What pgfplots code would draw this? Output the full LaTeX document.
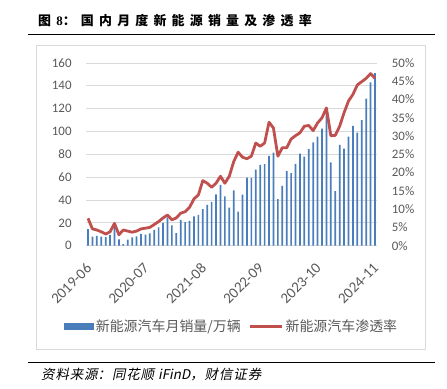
\documentclass[border=0pt]{standalone}
\usepackage{pgfplots}
\pgfplotsset{compat=1.18}
\usepackage{pgfplotstable}
\usepackage{fontspec}
\setmainfont{Carlito}
\newfontfamily\cjk{Noto Sans CJK SC}
\newfontfamily\cjkit[FakeSlant=0.2]{Noto Sans CJK SC}
\newfontfamily\serifnum{Liberation Serif}
\definecolor{barblue}{RGB}{74,126,187}
\definecolor{linered}{RGB}{192,80,77}
\definecolor{gridgray}{RGB}{217,217,217}
\definecolor{labgray}{RGB}{89,89,89}
\pgfplotstableread{
idx sales pen
0 14.5 7.5
1 8.0 4.6
2 8.5 4.3
3 8.0 3.8
4 7.5 3.2
5 9.5 3.8
6 18.0 6.1
7 5.5 3.0
8 1.3 4.3
9 5.3 4.0
10 7.2 3.7
11 8.2 4.0
12 10.4 4.6
13 9.8 4.8
14 10.9 5.0
15 13.8 5.8
16 16.0 6.6
17 20.0 7.6
18 24.8 8.4
19 17.9 7.1
20 11.0 7.6
21 22.6 8.9
22 20.6 9.3
23 21.7 10.5
24 25.6 12.8
25 27.1 13.9
26 32.1 17.8
27 35.7 17.1
28 38.3 16.0
29 45.0 17.1
30 53.1 19.0
31 43.1 17.1
32 33.4 19.0
33 48.4 23.0
34 29.9 25.6
35 44.7 24.2
36 59.6 23.8
37 59.3 24.5
38 66.6 28.1
39 70.8 27.2
40 71.4 28.1
41 78.6 33.8
42 81.4 32.2
43 40.8 24.5
44 52.5 26.8
45 65.3 26.8
46 63.6 29.2
47 71.7 30.1
48 80.6 30.9
49 78.0 32.7
50 84.6 32.9
51 90.4 31.5
52 95.6 33.6
53 102.6 35.0
54 119.1 37.7
55 72.9 30.1
56 47.7 30.2
57 88.3 32.7
58 85.0 36.4
59 95.5 39.6
60 104.9 41.4
61 99.1 44.0
62 110.0 44.9
63 128.7 45.8
64 143.0 47.1
65 151.2 45.8
}\datatable
\newcommand{\tsp}{\hspace{5.2bp}}
\newcommand{\ssp}{\hspace{0.9bp}}
\begin{document}
\begin{tikzpicture}
\path[use as bounding box] (0,0) rectangle (447bp,389bp);
% title
\node[anchor=west, inner sep=0pt, font=\cjk\bfseries\fontsize{13}{15}\selectfont] at (38bp,368.3bp)
 {图\tsp{\serifnum\bfseries 8}：\tsp 国\tsp 内\tsp 月\tsp 度\tsp 新\tsp 能\tsp 源\tsp 销\tsp 量\tsp 及\tsp 渗\tsp 透\tsp 率};
\draw[line width=1.3bp] (28bp,354.7bp) -- (435bp,354.7bp);
% chart border
\draw[color=gridgray, line width=0.8bp] (36.7bp,40bp) rectangle (425.5bp,344bp);
\begin{axis}[
  at={(85.8bp,143.3bp)}, anchor=south west,
  width=291.4bp, height=182.7bp, scale only axis,
  xmin=-0.5, xmax=65.5, ymin=0, ymax=160,
  ytick={0,20,...,160},
  xtick={0,13,26,39,52,65},
  xticklabels={2019-06,2020-07,2021-08,2022-09,2023-10,2024-11},
  axis line style={draw=none}, major tick style={draw=none},
  ymajorgrids, grid style={color=gridgray, line width=0.9bp},
  tick label style={font=\fontsize{13}{15}\selectfont, text=labgray},
  /pgf/number format/assume math mode=true,
  yticklabel style={inner sep=0pt, anchor=east},
  yticklabel shift=14bp,
  xticklabel style={font=\fontsize{15}{17}\selectfont, yshift=-20bp, xshift=1bp, rotate=45, anchor=east, inner sep=0pt},
  clip=false,
  legend columns=2,
  legend style={at={(0.5,-0.443)}, anchor=center, draw=none, fill=none,
    font=\cjk\fontsize{14}{16}\selectfont, text=labgray,
    /tikz/every even column/.append style={column sep=6bp},
    inner sep=0pt},
]
\addplot[ybar, bar width=1.7bp, fill=barblue, draw=none,
  legend image code/.code={\fill[barblue] (0bp,-3.5bp) rectangle (30bp,3.5bp);}]
  table[x=idx,y=sales]{\datatable};
\addlegendentry{新能源汽车月销量/万辆}
\addlegendimage{legend image code/.code={\draw[linered, line width=2.8bp] (0bp,0bp) -- (32bp,0bp);}}
\addlegendentry{新能源汽车渗透率}
\end{axis}
\begin{axis}[
  at={(85.8bp,143.3bp)}, anchor=south west,
  width=291.4bp, height=182.7bp, scale only axis,
  xmin=-0.5, xmax=65.5, ymin=0, ymax=50,
  axis y line*=right, hide x axis,
  ytick={0,5,...,50},
  yticklabel={\pgfmathprintnumber{\tick}\%},
  axis line style={draw=none}, major tick style={draw=none},
  tick label style={font=\fontsize{13}{15}\selectfont, text=labgray},
  /pgf/number format/assume math mode=true,
  yticklabel style={inner sep=0pt, anchor=west},
  yticklabel shift=14.5bp,
]
\addplot[linered, line width=2.8bp, line join=round, no marks] table[x=idx,y=pen]{\datatable};
\end{axis}
% source
\draw[line width=1.3bp] (28bp,26.5bp) -- (435bp,26.5bp);
\node[anchor=west, inner sep=0pt, font=\cjkit\fontsize{13.5}{15}\selectfont] at (41bp,14bp)
 {资\ssp 料\ssp 来\ssp 源：\ssp 同\ssp 花\ssp 顺\ssp\ iFinD，\ssp 财\ssp 信\ssp 证\ssp 券};
\end{tikzpicture}
\end{document}
